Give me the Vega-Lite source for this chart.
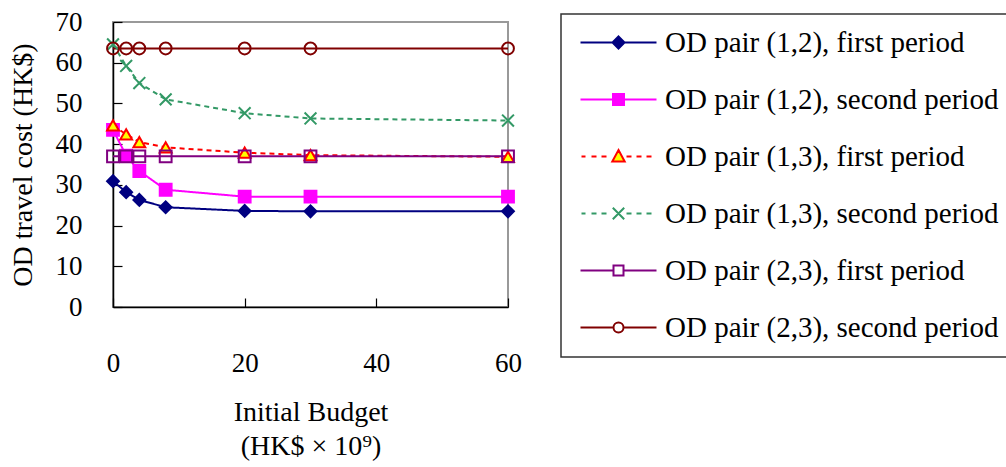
{
  "$schema": "https://vega.github.io/schema/vega-lite/v6.json",
  "width": 395,
  "height": 285,
  "autosize": {"type": "none"},
  "padding": {"left": 113, "top": 22, "right": 498, "bottom": 160},
  "background": "white",
  "config": {
    "font": "Liberation Serif",
    "view": {"stroke": "#999999", "strokeWidth": 2},
    "axis": {
      "grid": false,
      "domainColor": "#000000",
      "domainWidth": 1.5,
      "tickColor": "#000000",
      "tickWidth": 1.2,
      "labelColor": "#000000",
      "titleColor": "#000000",
      "labelFont": "Liberation Serif",
      "titleFont": "Liberation Serif",
      "titleFontWeight": "normal",
      "labelFontSize": 27,
      "titleFontSize": 28
    },
    "legend": {
      "orient": "none",
      "legendX": 448,
      "legendY": -8,
      "direction": "vertical",
      "columns": 1,
      "strokeColor": "#333333",
      "strokeWidth": 1.5,
      "fillColor": "white",
      "padding": 14,
      "symbolOffset": 0,
      "symbolSize": 400,
      "symbolStrokeWidth": 2,
      "labelFont": "Liberation Serif",
      "labelFontSize": 29,
      "labelColor": "#000000",
      "labelOffset": 61,
      "labelLimit": 700,
      "rowPadding": 27
    }
  },
  "data": {
    "values": [
      {"series": "OD pair (1,2), first period", "budget": 0, "cost": 30.9},
      {"series": "OD pair (1,2), first period", "budget": 2, "cost": 28.2},
      {"series": "OD pair (1,2), first period", "budget": 4, "cost": 26.3},
      {"series": "OD pair (1,2), first period", "budget": 8, "cost": 24.5},
      {"series": "OD pair (1,2), first period", "budget": 20, "cost": 23.6},
      {"series": "OD pair (1,2), first period", "budget": 30, "cost": 23.5},
      {"series": "OD pair (1,2), first period", "budget": 60, "cost": 23.5},
      {"series": "OD pair (1,2), second period", "budget": 0, "cost": 43.5},
      {"series": "OD pair (1,2), second period", "budget": 2, "cost": 37.2},
      {"series": "OD pair (1,2), second period", "budget": 4, "cost": 33.4},
      {"series": "OD pair (1,2), second period", "budget": 8, "cost": 28.8},
      {"series": "OD pair (1,2), second period", "budget": 20, "cost": 27.1},
      {"series": "OD pair (1,2), second period", "budget": 30, "cost": 27.1},
      {"series": "OD pair (1,2), second period", "budget": 60, "cost": 27.1},
      {"series": "OD pair (1,3), first period", "budget": 0, "cost": 44.6},
      {"series": "OD pair (1,3), first period", "budget": 2, "cost": 42.4},
      {"series": "OD pair (1,3), first period", "budget": 4, "cost": 40.5},
      {"series": "OD pair (1,3), first period", "budget": 8, "cost": 39.2},
      {"series": "OD pair (1,3), first period", "budget": 20, "cost": 37.9},
      {"series": "OD pair (1,3), first period", "budget": 30, "cost": 37.3},
      {"series": "OD pair (1,3), first period", "budget": 60, "cost": 36.9},
      {"series": "OD pair (1,3), second period", "budget": 0, "cost": 64.5},
      {"series": "OD pair (1,3), second period", "budget": 2, "cost": 59.2},
      {"series": "OD pair (1,3), second period", "budget": 4, "cost": 55.0},
      {"series": "OD pair (1,3), second period", "budget": 8, "cost": 51.0},
      {"series": "OD pair (1,3), second period", "budget": 20, "cost": 47.6},
      {"series": "OD pair (1,3), second period", "budget": 30, "cost": 46.3},
      {"series": "OD pair (1,3), second period", "budget": 60, "cost": 45.8},
      {"series": "OD pair (2,3), first period", "budget": 0, "cost": 37.0},
      {"series": "OD pair (2,3), first period", "budget": 2, "cost": 37.0},
      {"series": "OD pair (2,3), first period", "budget": 4, "cost": 37.0},
      {"series": "OD pair (2,3), first period", "budget": 8, "cost": 37.0},
      {"series": "OD pair (2,3), first period", "budget": 20, "cost": 37.0},
      {"series": "OD pair (2,3), first period", "budget": 30, "cost": 37.0},
      {"series": "OD pair (2,3), first period", "budget": 60, "cost": 37.0},
      {"series": "OD pair (2,3), second period", "budget": 0, "cost": 63.5},
      {"series": "OD pair (2,3), second period", "budget": 2, "cost": 63.5},
      {"series": "OD pair (2,3), second period", "budget": 4, "cost": 63.5},
      {"series": "OD pair (2,3), second period", "budget": 8, "cost": 63.5},
      {"series": "OD pair (2,3), second period", "budget": 20, "cost": 63.5},
      {"series": "OD pair (2,3), second period", "budget": 30, "cost": 63.5},
      {"series": "OD pair (2,3), second period", "budget": 60, "cost": 63.5}
    ]
  },
  "encoding": {
    "x": {
      "field": "budget",
      "type": "quantitative",
      "scale": {"domain": [0, 60], "nice": false},
      "axis": {
        "values": [0, 20, 40, 60],
        "tickSize": -9,
        "labelPadding": 52,
        "labelAngle": 0,
        "labelFlush": false,
        "title": ["Initial Budget", "(HK$ × 10⁹)"],
        "titleLineHeight": 34,
        "titlePadding": 22
      }
    },
    "y": {
      "field": "cost",
      "type": "quantitative",
      "scale": {"domain": [0, 70], "nice": false},
      "axis": {
        "values": [0, 10, 20, 30, 40, 50, 60, 70],
        "tickSize": -9,
        "labelPadding": 40,
        "labelFlush": false,
        "title": "OD travel cost (HK$)",
        "titlePadding": 18
      }
    }
  },
  "resolve": {
    "scale": {"fill": "independent", "stroke": "independent", "shape": "independent"},
    "legend": {"fill": "independent", "stroke": "independent", "shape": "independent"}
  },
  "layer": [
    {
      "mark": {"type": "line", "strokeWidth": 2},
      "encoding": {
        "color": {
          "field": "series",
          "type": "nominal",
          "scale": {
            "domain": ["OD pair (2,3), second period", "OD pair (2,3), first period", "OD pair (1,3), second period", "OD pair (1,3), first period", "OD pair (1,2), second period", "OD pair (1,2), first period"],
            "range": ["#800000", "#800080", "#339966", "#FF0000", "#FF00FF", "#000080"]
          },
          "legend": null
        },
        "strokeDash": {
          "field": "series",
          "type": "nominal",
          "scale": {
            "domain": ["OD pair (2,3), second period", "OD pair (2,3), first period", "OD pair (1,3), second period", "OD pair (1,3), first period", "OD pair (1,2), second period", "OD pair (1,2), first period"],
            "range": [[1, 0], [1, 0], [5, 4], [5, 4], [1, 0], [1, 0]]
          },
          "legend": null
        }
      }
    },
    {
      "mark": {"type": "point", "size": 140, "strokeWidth": 2, "opacity": 1},
      "encoding": {
        "fill": {
          "field": "series",
          "type": "nominal",
          "scale": {
            "domain": ["OD pair (2,3), second period", "OD pair (2,3), first period", "OD pair (1,3), second period", "OD pair (1,3), first period", "OD pair (1,2), second period", "OD pair (1,2), first period"],
            "range": ["transparent", "transparent", "transparent", "#FFFF00", "#FF00FF", "#000080"]
          },
          "legend": null
        },
        "stroke": {
          "field": "series",
          "type": "nominal",
          "scale": {
            "domain": ["OD pair (2,3), second period", "OD pair (2,3), first period", "OD pair (1,3), second period", "OD pair (1,3), first period", "OD pair (1,2), second period", "OD pair (1,2), first period"],
            "range": ["#800000", "#800080", "#339966", "#FF0000", "#FF00FF", "#000080"]
          },
          "legend": null
        },
        "shape": {
          "field": "series",
          "type": "nominal",
          "scale": {
            "domain": ["OD pair (2,3), second period", "OD pair (2,3), first period", "OD pair (1,3), second period", "OD pair (1,3), first period", "OD pair (1,2), second period", "OD pair (1,2), first period"],
            "range": ["circle", "square", "M-1,-1L1,1M-1,1L1,-1", "triangle-up", "square", "diamond"]
          },
          "legend": null
        }
      }
    },
    {
      "transform": [{"filter": "false"}],
      "mark": {"type": "point", "strokeWidth": 2, "opacity": 1},
      "encoding": {
        "fill": {
          "field": "series",
          "type": "nominal",
          "scale": {
            "domain": ["OD pair (1,2), first period", "OD pair (1,2), second period", "OD pair (1,3), first period", "OD pair (1,3), second period", "OD pair (2,3), first period", "OD pair (2,3), second period"],
            "range": ["#000080", "#FF00FF", "#FFFF00", "transparent", "transparent", "transparent"]
          },
          "legend": {"title": null}
        },
        "stroke": {
          "field": "series",
          "type": "nominal",
          "scale": {
            "domain": ["OD pair (1,2), first period", "OD pair (1,2), second period", "OD pair (1,3), first period", "OD pair (1,3), second period", "OD pair (2,3), first period", "OD pair (2,3), second period"],
            "range": ["#000080", "#FF00FF", "#FF0000", "#339966", "#800080", "#800000"]
          },
          "legend": {"title": null}
        },
        "shape": {
          "field": "series",
          "type": "nominal",
          "scale": {
            "domain": ["OD pair (1,2), first period", "OD pair (1,2), second period", "OD pair (1,3), first period", "OD pair (1,3), second period", "OD pair (2,3), first period", "OD pair (2,3), second period"],
            "range": [
              "M-0.9,0L2.3,0M3.5,0L6.7,0M2.9,-0.6L3.5,0L2.9,0.6L2.3,0Z",
              "M-0.9,0L2.35,0M3.45,0L6.7,0M2.35,-0.55L3.45,-0.55L3.45,0.55L2.35,0.55Z",
              "M-0.8,0L-0.4,0M0.2,0L0.7,0M1.2,0L1.7,0M3.7,0L4.2,0M4.7,0L5.2,0M5.7,0L6.2,0M2.9,-0.65L3.52,0.5L2.28,0.5Z",
              "M-0.8,0L-0.4,0M0.2,0L0.7,0M1.2,0L1.7,0M3.7,0L4.2,0M4.7,0L5.2,0M5.7,0L6.2,0M2.33,-0.57L3.47,0.57M2.33,0.57L3.47,-0.57",
              "M-0.9,0L2.4,0M3.4,0L6.7,0M2.4,-0.5L3.4,-0.5L3.4,0.5L2.4,0.5Z",
              "M-0.9,0L2.4,0M3.4,0L6.7,0M3.4,0A0.5,0.5 0 1,1 2.4,0A0.5,0.5 0 1,1 3.4,0Z"
            ]
          },
          "legend": {"title": null}
        }
      }
    }
  ]
}
